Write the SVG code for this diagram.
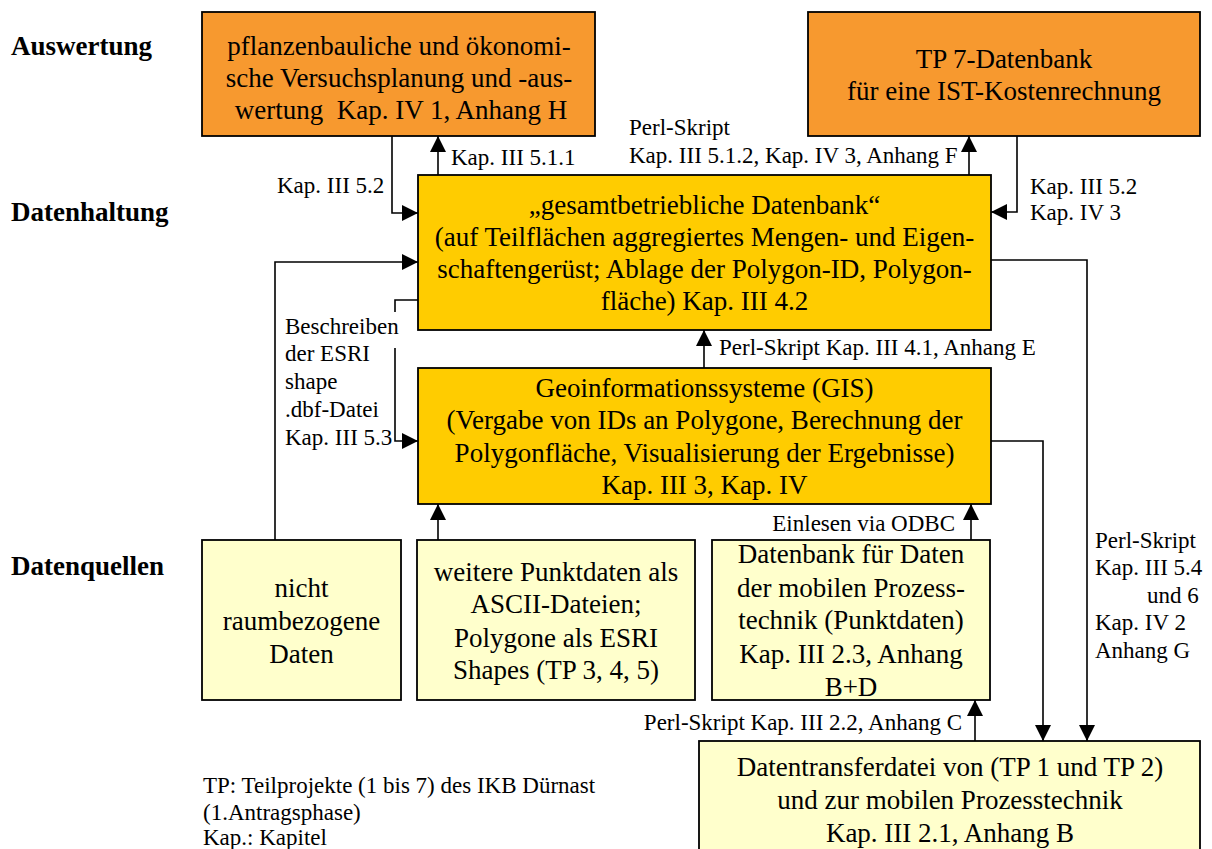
<svg xmlns="http://www.w3.org/2000/svg" width="1212" height="849" viewBox="0 0 1212 849">
  <style>
    .box { stroke: #000; stroke-width: 1.8; }
    .orange { fill: #F7992F; }
    .gold { fill: #FFCC00; }
    .pale { fill: #FFFFCC; }
    .bt { font-family: "Liberation Serif", "Times New Roman", serif; font-size: 27px; fill: #000; text-anchor: middle; }
    .lbl { font-family: "Liberation Serif", "Times New Roman", serif; font-size: 23px; fill: #000; }
    .head { font-family: "Liberation Serif", "Times New Roman", serif; font-size: 27px; font-weight: bold; fill: #000; }
    .con { fill: none; stroke: #000; stroke-width: 1.6; }
  </style>
  <defs>
    <marker id="arrow" markerUnits="userSpaceOnUse" markerWidth="16" markerHeight="16" refX="16" refY="8" orient="auto">
      <path d="M0,0 L16,8 L0,16 z" fill="#000"/>
    </marker>
  </defs>
  <rect width="1212" height="849" fill="#fff"/>

  <!-- row headings -->
  <g id="headings">
    <text class="head" x="11" y="55">Auswertung</text>
    <text class="head" x="11" y="221">Datenhaltung</text>
    <text class="head" x="11" y="575">Datenquellen</text>
  </g>

  <!-- connectors -->
  <g id="connectors">
    <path class="con" d="M392,136 V213 H418" marker-end="url(#arrow)"/>
    <path class="con" d="M438,175 V136" marker-end="url(#arrow)"/>
    <path class="con" d="M969,175 V136" marker-end="url(#arrow)"/>
    <path class="con" d="M1017,136 V212 H991" marker-end="url(#arrow)"/>
    <path class="con" d="M275,540 V262 H418" marker-end="url(#arrow)"/>
    <path class="con" d="M418,300 H395 V312"/>
    <path class="con" d="M395,348 V441 H418" marker-end="url(#arrow)"/>
    <path class="con" d="M704,368 V330" marker-end="url(#arrow)"/>
    <path class="con" d="M438,540 V504" marker-end="url(#arrow)"/>
    <path class="con" d="M971,540 V504" marker-end="url(#arrow)"/>
    <path class="con" d="M975,741 V700" marker-end="url(#arrow)"/>
    <path class="con" d="M991,441 H1043 V741" marker-end="url(#arrow)"/>
    <path class="con" d="M991,260 H1087 V741" marker-end="url(#arrow)"/>
  </g>

  <!-- connector labels -->
  <g id="connector-labels">
    <text class="lbl" x="277" y="193">Kap. III 5.2</text>
    <text class="lbl" x="451" y="165">Kap. III 5.1.1</text>
    <text class="lbl" x="629" y="135">Perl-Skript</text>
    <text class="lbl" x="629" y="163">Kap. III 5.1.2, Kap. IV 3, Anhang F</text>
    <text class="lbl" x="1030" y="194">Kap. III 5.2</text>
    <text class="lbl" x="1030" y="220">Kap. IV 3</text>
    <text class="lbl" x="285" y="334">Beschreiben</text>
    <text class="lbl" x="285" y="361">der ESRI</text>
    <text class="lbl" x="285" y="389">shape</text>
    <text class="lbl" x="285" y="417">.dbf-Datei</text>
    <text class="lbl" x="285" y="445">Kap. III 5.3</text>
    <text class="lbl" x="719" y="355">Perl-Skript Kap. III 4.1, Anhang E</text>
    <text class="lbl" x="955" y="531" text-anchor="end">Einlesen via ODBC</text>
    <text class="lbl" x="962" y="730" text-anchor="end">Perl-Skript Kap. III 2.2, Anhang C</text>
    <text class="lbl" x="1095" y="548">Perl-Skript</text>
    <text class="lbl" x="1095" y="575">Kap. III 5.4</text>
    <text class="lbl" x="1147" y="603">und 6</text>
    <text class="lbl" x="1095" y="630">Kap. IV 2</text>
    <text class="lbl" x="1095" y="658">Anhang G</text>
  </g>

  <g id="auswertung">
    <rect class="box orange" x="202" y="12" width="393" height="124"/>
    <text class="bt" x="399" y="55">pflanzenbauliche und ökonomi-</text>
    <text class="bt" x="399" y="87">sche Versuchsplanung und -aus-</text>
    <text class="bt" x="401" y="119">wertung&#160; Kap. IV 1, Anhang H</text>
  </g>

  <g id="tp7-datenbank">
    <rect class="box orange" x="808" y="12" width="392" height="124"/>
    <text class="bt" x="1004" y="68">TP 7-Datenbank</text>
    <text class="bt" x="1004" y="100">für eine IST-Kostenrechnung</text>
  </g>

  <g id="gesamtbetriebliche-datenbank">
    <rect class="box gold" x="418" y="175" width="573" height="155"/>
    <text class="bt" x="704.5" y="214">„gesamtbetriebliche Datenbank“</text>
    <text class="bt" x="704.5" y="246">(auf Teilflächen aggregiertes Mengen- und Eigen-</text>
    <text class="bt" x="704.5" y="278">schaftengerüst; Ablage der Polygon-ID, Polygon-</text>
    <text class="bt" x="704.5" y="310">fläche) Kap. III 4.2</text>
  </g>

  <g id="gis">
    <rect class="box gold" x="418" y="368" width="573" height="136"/>
    <text class="bt" x="704.5" y="397">Geoinformationssysteme (GIS)</text>
    <text class="bt" x="704.5" y="429">(Vergabe von IDs an Polygone, Berechnung der</text>
    <text class="bt" x="704.5" y="462">Polygonfläche, Visualisierung der Ergebnisse)</text>
    <text class="bt" x="704.5" y="494">Kap. III 3, Kap. IV</text>
  </g>

  <g id="nicht-raumbezogene-daten">
    <rect class="box pale" x="202" y="540" width="199" height="160"/>
    <text class="bt" x="301.5" y="597">nicht</text>
    <text class="bt" x="301.5" y="630">raumbezogene</text>
    <text class="bt" x="301.5" y="663">Daten</text>
  </g>

  <g id="punktdaten-shapes">
    <rect class="box pale" x="417" y="540" width="278" height="160"/>
    <text class="bt" x="556" y="581">weitere Punktdaten als</text>
    <text class="bt" x="556" y="613">ASCII-Dateien;</text>
    <text class="bt" x="556" y="647">Polygone als ESRI</text>
    <text class="bt" x="556" y="679">Shapes (TP 3, 4, 5)</text>
  </g>

  <g id="prozesstechnik-datenbank">
    <rect class="box pale" x="712" y="540" width="278" height="160"/>
    <text class="bt" x="851" y="563">Datenbank für Daten</text>
    <text class="bt" x="851" y="597">der mobilen Prozess-</text>
    <text class="bt" x="851" y="629">technik (Punktdaten)</text>
    <text class="bt" x="851" y="663">Kap. III 2.3, Anhang</text>
    <text class="bt" x="851" y="696">B+D</text>
  </g>

  <g id="datentransferdatei">
    <rect class="box pale" x="699" y="741" width="501" height="130"/>
    <text class="bt" x="950" y="776">Datentransferdatei von (TP 1 und TP 2)</text>
    <text class="bt" x="950" y="809">und zur mobilen Prozesstechnik</text>
    <text class="bt" x="950" y="842">Kap. III 2.1, Anhang B</text>
  </g>

  <!-- legend -->
  <g id="legend">
    <text class="lbl" x="203" y="793">TP: Teilprojekte (1 bis 7) des IKB Dürnast</text>
    <text class="lbl" x="203" y="820">(1.Antragsphase)</text>
    <text class="lbl" x="203" y="845">Kap.: Kapitel</text>
  </g>
</svg>
